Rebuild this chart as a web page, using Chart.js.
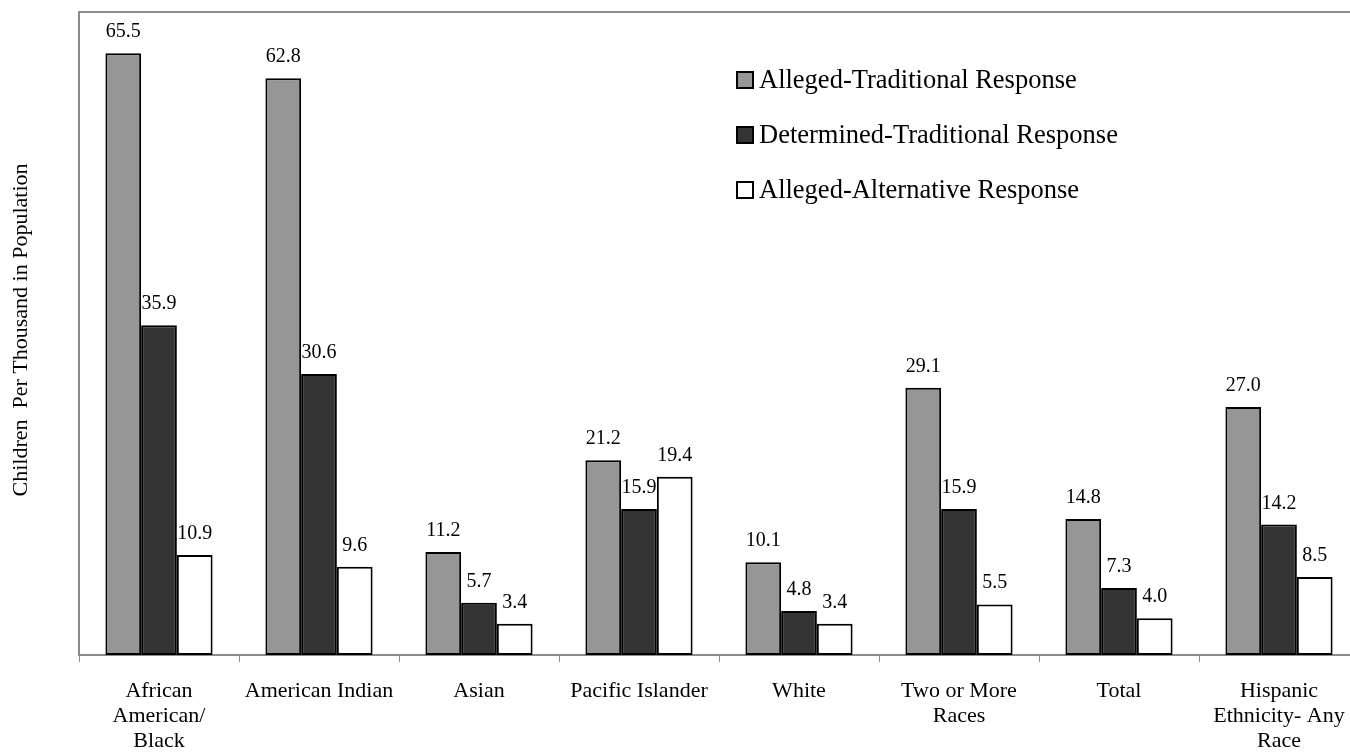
<!DOCTYPE html>
<html>
<head>
<meta charset="utf-8">
<script src="https://cdn.jsdelivr.net/npm/chart.js@4"></script>
<style>
  html, body { margin: 0; padding: 0; background: #fff; overflow: hidden; }
  #canvas { display: block; }
</style>
</head>
<body>
<canvas id="canvas" width="1362" height="755"></canvas>
<script>
"use strict"

let categories = [
    ["African", "American/", "Black"],
    "American Indian",
    "Asian",
    "Pacific Islander",
    "White",
    ["Two or More", "Races"],
    "Total",
    ["Hispanic", "Ethnicity- Any", "Race"]
];
let seriesNames = [
    "Alleged-Traditional Response",
    "Determined-Traditional Response",
    "Alleged-Alternative Response"
];
let allegedTraditional = [65.5, 62.8, 11.2, 21.2, 10.1, 29.1, 14.8, 27.0];
let determinedTraditional = [35.9, 30.6, 5.7, 15.9, 4.8, 15.9, 7.3, 14.2];
let allegedAlternative = [10.9, 9.6, 3.4, 19.4, 3.4, 5.5, 4.0, 8.5];
let yTitle = "Children  Per Thousand in Population";

/* Colors */
let lightGray = "#969696";
let darkGray = "#333333";
let white = "#ffffff";
let axisGray = "#8c8c8c";
let serif = "'Liberation Serif', 'Times New Roman', serif";

// value labels go under the bars, like the original
let valueLabels = {
    id: "valueLabels",
    beforeDatasetsDraw(chart) {
        const ctx = chart.ctx;
        ctx.save();
        ctx.fillStyle = "#000";
        ctx.font = "20px " + serif;
        ctx.textAlign = "center";
        ctx.textBaseline = "alphabetic";
        chart.data.datasets.forEach((ds, i) => {
            chart.getDatasetMeta(i).data.forEach((bar, j) => {
                ctx.fillText(ds.data[j].toFixed(1), bar.x, bar.y - 16);
            });
        });
        ctx.restore();
    }
};

// legend, top border and y title
let extras = {
    id: "extras",
    afterDatasetsDraw(chart) {
        const ctx = chart.ctx;
        const area = chart.chartArea;
        ctx.save();

        ctx.strokeStyle = axisGray;
        ctx.lineWidth = 2;
        ctx.beginPath();
        ctx.moveTo(area.left, area.top);
        ctx.lineTo(area.right, area.top);
        ctx.stroke();

        ctx.font = "26.5px " + serif;
        ctx.textAlign = "left";
        ctx.textBaseline = "middle";
        chart.data.datasets.forEach((ds, i) => {
            let y = 80 + i * 55;
            ctx.fillStyle = ds.backgroundColor;
            ctx.fillRect(737, y - 8, 16, 16);
            ctx.strokeStyle = "#000";
            ctx.lineWidth = 2;
            ctx.strokeRect(737, y - 8, 16, 16);
            ctx.fillStyle = "#000";
            ctx.fillText(ds.label, 759, y + 1);
        });

        ctx.font = "22px " + serif;
        ctx.textAlign = "center";
        ctx.textBaseline = "middle";
        ctx.translate(21, 330);
        ctx.rotate(-Math.PI / 2);
        ctx.fillText(yTitle, 0, 0);
        ctx.restore();
    }
};

function makeSet(label, values, color) {
    return {
        label: label,
        data: values,
        backgroundColor: color,
        borderColor: "#000",
        borderWidth: 2,
        borderSkipped: false,
        barPercentage: 1,
        categoryPercentage: 0.67
    };
}

const ctx = document.getElementById("canvas").getContext("2d");
const myChart = new Chart(ctx, {
    type: "bar",
    data: {
        labels: categories,
        datasets: [
            makeSet(seriesNames[0], allegedTraditional, lightGray),
            makeSet(seriesNames[1], determinedTraditional, darkGray),
            makeSet(seriesNames[2], allegedAlternative, white)
        ]
    },
    options: {
        responsive: false,
        animation: false,
        layout: {
            padding: { top: 12, left: 0, right: 3, bottom: 0 }
        },
        scales: {
            y: {
                min: 0,
                max: 70,
                ticks: { display: false },
                grid: { display: false },
                border: { color: axisGray, width: 2 },
                afterFit: scale => { scale.width = 79; }
            },
            x: {
                offset: true,
                grid: {
                    drawOnChartArea: false,
                    drawTicks: true,
                    tickLength: 7,
                    color: axisGray,
                    offset: true
                },
                border: { color: axisGray, width: 2 },
                ticks: {
                    color: "#000",
                    maxRotation: 0,
                    autoSkip: false,
                    padding: 17,
                    font: { family: serif, size: 22, lineHeight: 1.14 }
                },
                afterFit: scale => { scale.height = 100; }
            }
        },
        plugins: {
            legend: { display: false },
            tooltip: { enabled: false }
        }
    },
    plugins: [valueLabels, extras]
});
</script>
</body>
</html>
